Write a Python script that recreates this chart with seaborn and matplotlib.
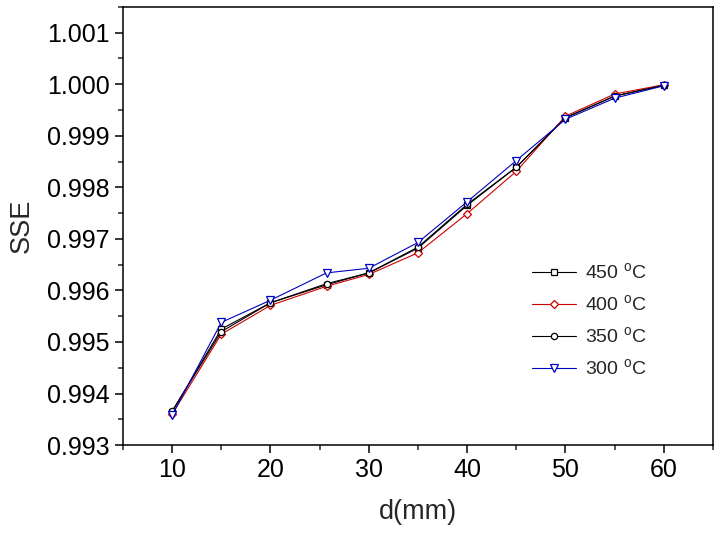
import numpy as np
import pandas as pd
import matplotlib
matplotlib.use('Agg')
import matplotlib.pyplot as plt
from matplotlib.ticker import MultipleLocator, FormatStrFormatter
import seaborn as sns

# data
d_mm = [10, 15, 20, 25.7, 30, 35, 40, 45, 50, 55, 60]
sse_450 = [0.99365, 0.99525, 0.99576, 0.99611, 0.99634, 0.99682, 0.99765, 0.99839, 0.99935, 0.99977, 0.99998]
sse_400 = [0.99360, 0.99515, 0.99571, 0.99608, 0.99631, 0.99673, 0.99749, 0.99831, 0.99938, 0.99981, 0.99999]
sse_350 = [0.99366, 0.99520, 0.99576, 0.99613, 0.99634, 0.99684, 0.99767, 0.99839, 0.99935, 0.99977, 0.99998]
sse_300 = [0.99358, 0.99538, 0.99581, 0.99634, 0.99643, 0.99693, 0.99772, 0.99852, 0.99932, 0.99973, 0.99997]

labels = ['450 $^\\mathrm{o}$C', '400 $^\\mathrm{o}$C', '350 $^\\mathrm{o}$C', '300 $^\\mathrm{o}$C']
colors = ['black', '#cc0000', 'black', '#0000c0']
markers = ['s', 'D', 'o', 'v']
msizes = [4, 4.5, 4.5, 5.5]

sns.set_style('ticks')
plt.rcParams['font.family'] = ['Liberation Sans', 'DejaVu Sans']
plt.rcParams['mathtext.fontset'] = 'custom'
plt.rcParams['mathtext.rm'] = 'Liberation Sans'

fig = plt.figure(figsize=(7.26, 5.33), dpi=100)
ax = fig.add_axes([0.1694, 0.165, 0.8126, 0.822])

for ys, lab, c, m, ms in zip([sse_450, sse_400, sse_350, sse_300], labels, colors, markers, msizes):
    sns.lineplot(x=d_mm, y=ys, ax=ax, color=c, marker=m, markersize=ms,
                 markerfacecolor='white', markeredgecolor=c, markeredgewidth=0.9,
                 linewidth=0.8, label=lab, sort=False)

ax.set_xlim(5, 65)
ax.set_ylim(0.993, 1.0015)
ax.xaxis.set_major_locator(MultipleLocator(10))
ax.xaxis.set_minor_locator(MultipleLocator(5))
ax.yaxis.set_major_locator(MultipleLocator(0.001))
ax.yaxis.set_minor_locator(MultipleLocator(0.0005))
ax.yaxis.set_major_formatter(FormatStrFormatter('%.3f'))

for s in ax.spines.values():
    s.set_linewidth(1.1)
    s.set_color('black')
ax.tick_params(which='major', direction='out', length=6, width=1.1, labelsize=18, colors='black')
ax.tick_params(which='minor', direction='out', length=3.5, width=1.1)
ax.tick_params(top=False, right=False)

ax.set_xlabel('d(mm)', fontsize=19.5, labelpad=12)
ax.set_ylabel('SSE', fontsize=19.5, labelpad=9)

leg = ax.legend(loc='center left', bbox_to_anchor=(0.663, 0.284), frameon=False,
                fontsize=14, handlelength=2.3, handletextpad=0.45, labelspacing=0.57,
                numpoints=1)

fig.savefig('out.png', dpi=100)
